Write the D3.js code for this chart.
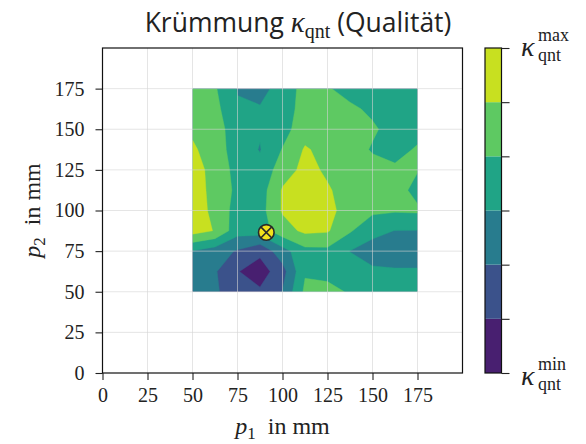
<!DOCTYPE html>
<meta charset="utf-8">
<script src="https://cdn.jsdelivr.net/npm/d3@7"></script>
<style>
body { margin: 0; background: #fff; }
.axis text { font-family: "Liberation Serif", serif; font-size: 20px; fill: #222; }
.axis line { stroke: #222; stroke-width: 1.1; }
.grid line { stroke: #d4d4d4; stroke-opacity: 0.6; stroke-width: 1; }
.serif { font-family: "Liberation Serif", serif; }
</style>
<body>
<div id="chart"></div>
<script>
// measurement grid (mm)
const p1 = [50, 62.5, 75, 87.5, 100, 112.5, 125, 137.5, 150, 162.5, 175];
const p2 = [50, 62.5, 75, 87.5, 100, 112.5, 125, 137.5, 150, 162.5, 175];

// curvature quality, scaled 0 (min) .. 6 (max), one row per p2 value
const k_050 = [2.4, 2.1, 1.6, 1.15, 2.05, 4.2, 4.3, 3.9, 3.5, 3.4, 3.3];
const k_062 = [2.3, 2.1, 1.05, 0.5, 1.62, 3.9, 3.7, 3.4, 3.15, 3.1, 3.1];
const k_075 = [2.95, 2.5, 1.9, 1.25, 2.6, 3.7, 3.75, 2.98, 2.6, 2.5, 2.5];
const k_087 = [5.4, 4.95, 3.4, 3.5, 4.6, 5.2, 5.1, 4.1, 3.27, 2.98, 2.97];
const k_100 = [5.6, 4.7, 3.6, 3.6, 5.1, 5.6, 5.3, 4.55, 4.2, 4.1, 4.15];
const k_112 = [5.6, 4.6, 3.8, 3.5, 5.1, 5.7, 5.1, 4.6, 4.5, 4.4, 3.7];
const k_125 = [5.3, 4.75, 3.6, 3.3, 4.5, 5.3, 4.85, 4.6, 4.4, 4.15, 4.05];
const k_137 = [5.15, 4.5, 3.5, 2.95, 4.05, 5.1, 4.7, 4.5, 3.9, 3.7, 4.1];
const k_150 = [4.83, 4.4, 3.5, 3.1, 3.6, 4.6, 4.5, 4.3, 4.15, 3.6, 3.7];
const k_162 = [4.6, 4.3, 3.1, 3.1, 3.5, 4.4, 4.3, 4.2, 3.8, 3.6, 3.5];
const k_175 = [4.5, 4.1, 2.95, 2.6, 3.5, 4.3, 4.1, 3.6, 3.5, 3.5, 3.5];

const levels = [0, 1, 2, 3, 4, 5, 6];
const axisTicks = [0, 25, 50, 75, 100, 125, 150, 175];
const optimum = [91, 86.5];   // marked point (p1, p2)

//----------------------------SETUP-----------------------------//
const width = 586, height = 444;
const svg = d3.select("#chart").append("svg")
    .attr("width", width)
    .attr("height", height);

const xScale = d3.scaleLinear().domain([0, 200]).range([102.5, 462.5]);
const yScale = d3.scaleLinear().domain([0, 200]).range([373, 48]);
const color = k => d3.interpolateViridis((k + 0.5) / (levels.length - 1));

//---------------------------CONTOURS---------------------------//
const rows = [k_050, k_062, k_075, k_087, k_100, k_112, k_125, k_137, k_150, k_162, k_175];
const values = rows.flat();
const nx = p1.length, ny = p2.length;

// d3.contours puts sample i at i + 0.5
const gx = d3.scaleLinear().domain([0.5, nx - 0.5]).range([p1[0], p1[nx - 1]]);
const gy = d3.scaleLinear().domain([0.5, ny - 0.5]).range([p2[0], p2[ny - 1]]);

const contours = d3.contours()
    .size([nx, ny])
    .thresholds(levels.slice(0, -1))(values);

const proj = d3.geoTransform({
    point: function(x, y) { this.stream.point(xScale(gx(x)), yScale(gy(y))); }
});
const path = d3.geoPath(proj);

svg.append("clipPath").attr("id", "dataclip")
  .append("rect")
    .attr("x", xScale(p1[0]))
    .attr("y", yScale(p2[ny - 1]))
    .attr("width", xScale(p1[nx - 1]) - xScale(p1[0]))
    .attr("height", yScale(p2[0]) - yScale(p2[ny - 1]));

svg.append("g")
    .attr("clip-path", "url(#dataclip)")
  .selectAll("path")
  .data(contours)
  .enter().append("path")
    .attr("d", path)
    .attr("fill", (d, i) => color(i))
    .attr("stroke", (d, i) => color(i))
    .attr("stroke-width", 0.4);

//-----------------------------GRID-----------------------------//
const grid = svg.append("g").attr("class", "grid");
grid.selectAll("line.v").data(axisTicks.slice(1)).enter().append("line")
    .attr("x1", d => xScale(d)).attr("x2", d => xScale(d))
    .attr("y1", yScale(0)).attr("y2", yScale(200));
grid.selectAll("line.h").data(axisTicks.slice(1)).enter().append("line")
    .attr("y1", d => yScale(d)).attr("y2", d => yScale(d))
    .attr("x1", xScale(0)).attr("x2", xScale(200));

//-----------------------------AXES-----------------------------//
svg.append("g")
    .attr("class", "axis")
    .attr("transform", "translate(0," + yScale(0) + ")")
    .call(d3.axisBottom(xScale).tickValues(axisTicks).tickSize(7).tickPadding(8))
    .call(g => g.select(".domain").remove());

svg.append("g")
    .attr("class", "axis")
    .attr("transform", "translate(" + xScale(0) + ",0)")
    .call(d3.axisLeft(yScale).tickValues(axisTicks).tickSize(7).tickPadding(11))
    .call(g => g.select(".domain").remove());

svg.append("rect")
    .attr("x", xScale(0)).attr("y", yScale(200))
    .attr("width", xScale(200) - xScale(0))
    .attr("height", yScale(0) - yScale(200))
    .attr("fill", "none")
    .attr("stroke", "#111")
    .attr("stroke-width", 1.2);

// axis labels
const xl = svg.append("text").attr("class", "serif")
    .attr("x", (xScale(0) + xScale(200)) / 2).attr("y", 434)
    .attr("text-anchor", "middle").style("font-size", "24px").attr("fill", "#222");
xl.append("tspan").style("font-style", "italic").text("p");
xl.append("tspan").attr("dy", 5).style("font-size", "17px").text("1");
xl.append("tspan").attr("dy", -5).text("\u2002in mm");

const yl = svg.append("text").attr("class", "serif")
    .attr("transform", "translate(40," + (yScale(0) + yScale(200)) / 2 + ") rotate(-90)")
    .attr("text-anchor", "middle").style("font-size", "24px").attr("fill", "#222");
yl.append("tspan").style("font-style", "italic").text("p");
yl.append("tspan").attr("dy", 5).style("font-size", "17px").text("2");
yl.append("tspan").attr("dy", -5).text("\u2002in mm");

//----------------------------MARKER----------------------------//
const mx = xScale(optimum[0]), my = yScale(optimum[1]), r = 7.8, a = r * Math.SQRT1_2;
const mk = svg.append("g").attr("stroke", "#2b2b2b").attr("stroke-width", 1.6);
mk.append("circle").attr("cx", mx).attr("cy", my).attr("r", r).attr("fill", "#f4e21c");
mk.append("path").attr("d",
    "M" + (mx - a) + "," + (my - a) + "L" + (mx + a) + "," + (my + a) +
    "M" + (mx - a) + "," + (my + a) + "L" + (mx + a) + "," + (my - a));

//---------------------------COLORBAR---------------------------//
const cbX = 485, cbW = 16.5;
const cbScale = d3.scaleLinear().domain([levels[0], levels[levels.length - 1]]).range([373, 48]);
const cb = svg.append("g");
cb.selectAll("rect").data(levels.slice(0, -1)).enter().append("rect")
    .attr("x", cbX)
    .attr("y", d => cbScale(d + 1))
    .attr("width", cbW)
    .attr("height", d => cbScale(d) - cbScale(d + 1))
    .attr("fill", (d, i) => color(i));
cb.append("rect")
    .attr("x", cbX).attr("y", cbScale(6))
    .attr("width", cbW).attr("height", cbScale(0) - cbScale(6))
    .attr("fill", "none").attr("stroke", "#111").attr("stroke-width", 1.2);
svg.append("g")
    .attr("class", "axis")
    .attr("transform", "translate(" + (cbX + cbW) + ",0)")
    .call(d3.axisRight(cbScale).tickValues(levels).tickSize(8).tickFormat(""))
    .call(g => g.select(".domain").remove());

function kappaLabel(y, sup) {
    const g = svg.append("g").attr("class", "serif").attr("fill", "#222");
    g.append("text").attr("x", 521).attr("y", y).style("font-style", "italic")
        .style("font-size", "28px").text("\u03ba");
    g.append("text").attr("x", 538).attr("y", y - 15).style("font-size", "18px").text(sup);
    g.append("text").attr("x", 538).attr("y", y + 5).style("font-size", "18px").text("qnt");
}
kappaLabel(56, "max");
kappaLabel(385, "min");

//-----------------------------TITLE----------------------------//
const title = svg.append("text")
    .attr("x", 298).attr("y", 32)
    .attr("text-anchor", "middle")
    .attr("fill", "#222")
    .style("font-family", "'Open Sans', sans-serif")
    .style("font-size", "26.5px");
title.append("tspan").text("Krümmung ");
title.append("tspan").attr("class", "serif").style("font-style", "italic")
    .style("font-size", "29px").text("\u03ba");
title.append("tspan").attr("class", "serif").attr("dy", 6).style("font-size", "20px").text("qnt");
title.append("tspan").attr("dy", -6).text(" (Qualität)");
</script>
</body>
